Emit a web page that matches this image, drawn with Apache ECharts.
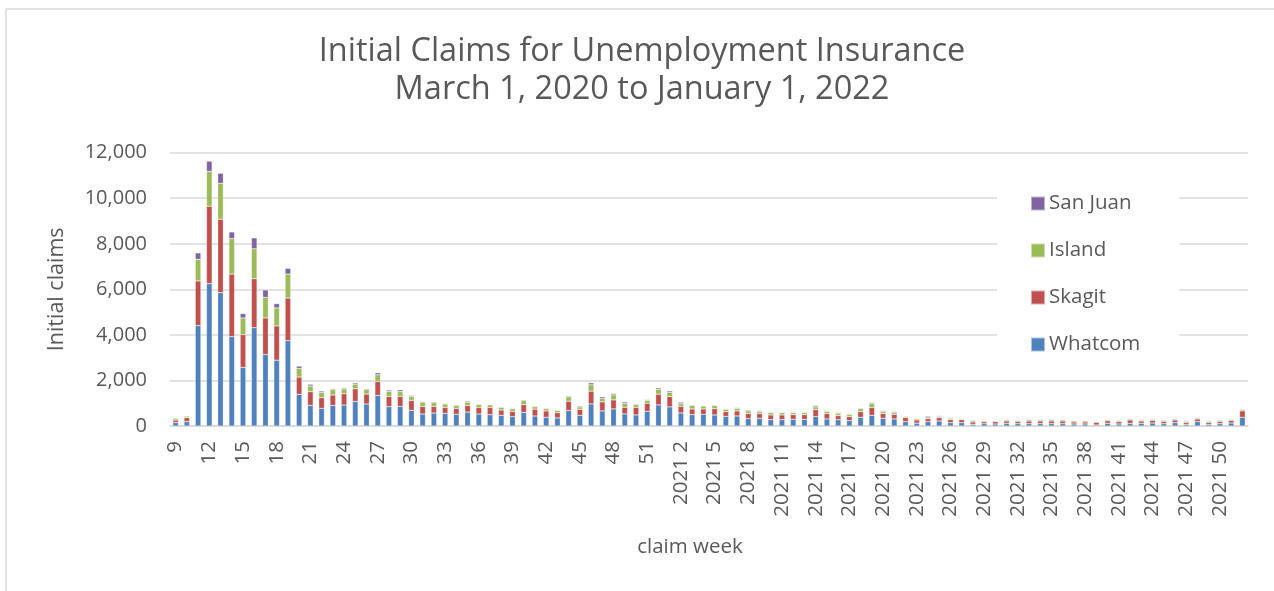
<!DOCTYPE html>
<html>
<head>
<meta charset="utf-8">
<script src="https://cdn.jsdelivr.net/npm/echarts@6/dist/echarts.min.js"></script>
<style>
html,body{margin:0;padding:0;background:#fff;}
#c{width:1274px;height:591px;}
</style>
</head>
<body>
<div id="c"></div>
<script>
// Categories: 2020 weeks 9..52, then 2021 weeks 1..52
const weeks2020 = [9,10,11,12,13,14,15,16,17,18,19,20,21,22,23,24,25,26,27,28,29,30,31,32,33,34,35,36,37,38,39,40,41,42,43,44,45,46,47,48,49,50,51,52];
const weeks2021 = [1,2,3,4,5,6,7,8,9,10,11,12,13,14,15,16,17,18,19,20,21,22,23,24,25,26,27,28,29,30,31,32,33,34,35,36,37,38,39,40,41,42,43,44,45,46,47,48,49,50,51,52];
const categories = weeks2020.map(String).concat(weeks2021.map(w => '2021 ' + w));

const whatcom = [
  150,190,4410,6250,5855,3925,2570,4320,3140,2890,3750,1390,905,775,905,920,1080,964,1343,847,861,686,526,569,555,511,613,526,496,467,409,599,440,382,353,676,470,970,662,750,529,485,647,926,
  838,573,500,515,485,420,441,323,338,279,279,294,294,412,309,279,235,382,470,338,309,191,125,191,220,147,147,74,103,88,118,103,103,103,103,103,88,88,44,118,88,118,118,132,103,147,74,191,74,103,132,382
];
const skagit = [
  110,175,1960,3400,3225,2745,1445,2145,1605,1505,1870,760,600,465,455,495,555,438,613,452,438,438,335,292,263,263,292,292,322,234,233,335,300,280,235,412,265,559,396,397,294,338,353,471,
  456,294,250,235,279,213,221,221,206,206,206,206,206,308,235,177,177,250,339,206,206,177,140,132,148,132,132,102,88,103,102,103,117,117,117,117,88,88,118,110,103,147,102,118,103,118,88,118,88,103,118,280
];
const island = [
  80,70,950,1530,1575,1560,730,1315,905,790,1050,380,250,235,235,210,205,189,292,219,219,175,190,161,146,131,146,131,116,117,117,176,110,102,103,191,103,279,147,220,177,118,132,220,
  191,118,161,132,133,110,117,118,103,103,103,88,88,118,103,88,103,132,176,88,73,58,65,74,58,59,30,74,44,44,59,44,59,59,59,59,59,59,29,60,44,44,45,44,44,44,44,44,44,44,29,58
];
const sanJuan = [
  20,15,280,450,440,290,190,480,320,190,250,100,75,60,45,45,58,44,88,59,73,44,29,44,29,29,44,15,15,29,29,43,29,29,15,44,44,88,74,59,58,29,29,59,
  59,59,15,15,29,22,29,44,29,29,29,29,29,59,29,44,29,29,44,44,44,15,22,44,29,29,29,15,15,15,15,15,29,15,29,15,15,15,15,22,29,29,29,15,29,29,29,29,29,29,29,29
];
const yTicks = [0,2000,4000,6000,8000,10000,12000];

const FONT = 'Open Sans';
const GREY = '#595959';
const chart = echarts.init(document.getElementById('c'), null, {renderer:'canvas'});

function bar(name, data, color){
  return {
    name, type:'bar', stack:'total', data, barWidth:'50%',
    itemStyle:{color, borderColor:'rgba(255,255,255,0.5)', borderWidth:0.5},
    emphasis:{disabled:true}
  };
}

chart.setOption({
  animation:false,
  backgroundColor:'#fff',
  title:{
    text:'Initial Claims for Unemployment Insurance\nMarch 1, 2020 to January 1, 2022',
    left:642, textAlign:'center', top:33, padding:0,
    textStyle:{fontFamily:FONT, fontSize:32.5, fontWeight:'normal', color:GREY, lineHeight:38}
  },
  graphic:[
    {type:'rect', shape:{x:6, y:9, width:1300, height:620}, style:{fill:'none', stroke:'#d9d9d9', lineWidth:1.5}, silent:true, z:-10},
    {type:'text', x:690, y:547, style:{text:'claim week', fontFamily:FONT, fontSize:20.5, fill:GREY, textAlign:'center', textVerticalAlign:'middle'}}
  ],
  legend:{
    orient:'vertical', left:997, top:176,
    data:['San Juan','Island','Skagit','Whatcom'],
    itemWidth:14, itemHeight:14, itemGap:26,
    icon:'rect',
    backgroundColor:'#fff',
    padding:[17,39,17,33],
    textStyle:{fontFamily:FONT, fontSize:20.5, color:GREY, lineHeight:20, padding:[0,0,0,-1]},
    selectedMode:false, z:5
  },
  grid:{left:170, right:26, top:152.7, bottom:165, containLabel:false},
  xAxis:{
    type:'category', data:categories,
    axisTick:{show:false},
    axisLine:{lineStyle:{color:'#d9d9d9', width:1.5}},
    axisLabel:{interval:2, rotate:90, margin:15, fontFamily:FONT, fontSize:20.5, color:GREY}
  },
  yAxis:{
    type:'value', min:yTicks[0], max:yTicks[yTicks.length-1], interval:2000,
    name:'Initial claims', nameLocation:'middle', nameGap:102,
    nameTextStyle:{fontFamily:FONT, fontSize:21.5, color:GREY},
    axisLine:{show:false}, axisTick:{show:false},
    splitLine:{lineStyle:{color:'#d9d9d9', width:1.5}},
    axisLabel:{margin:23, fontFamily:FONT, fontSize:20, color:GREY,
      formatter:v => v.toLocaleString('en-US')}
  },
  series:[
    bar('Whatcom', whatcom, '#4F81BD'),
    bar('Skagit', skagit, '#C0504D'),
    bar('Island', island, '#9BBB59'),
    bar('San Juan', sanJuan, '#8064A2')
  ]
});
</script>
</body>
</html>
